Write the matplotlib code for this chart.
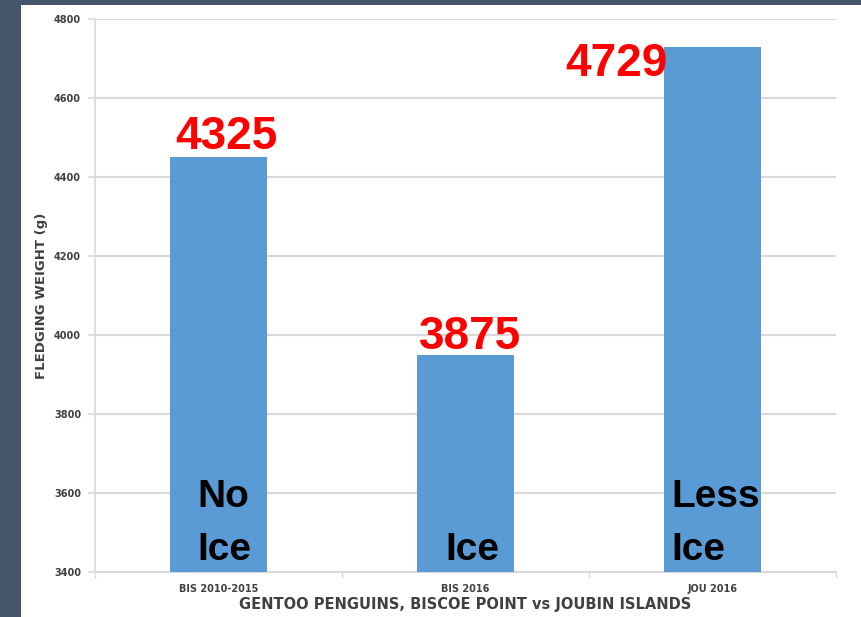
import matplotlib
matplotlib.use("Agg")
import matplotlib.pyplot as plt
from matplotlib.patches import Rectangle

categories = ["BIS 2010-2015", "BIS 2016", "JOU 2016"]
weights = [4450, 3950, 4730]
value_labels = ["4325", "3875", "4729"]
ice_labels = ["No\nIce", "Ice", "Less\nIce"]
yticks = [3400, 3600, 3800, 4000, 4200, 4400, 4600, 4800]

W, H = 862, 617
fig = plt.figure(figsize=(W / 100, H / 100), dpi=100, facecolor="white")
fig.patches.append(Rectangle((0, 0), 21 / W, 1, transform=fig.transFigure,
                             facecolor="#44546A", edgecolor="none", zorder=-10))
fig.patches.append(Rectangle((0, (H - 5) / H), 1, 5 / H, transform=fig.transFigure,
                             facecolor="#44546A", edgecolor="none", zorder=-10))

ax = fig.add_axes([95 / W, (H - 572) / H, (836 - 95) / W, (572 - 19) / H])
ax.set_facecolor("white")
x = list(range(len(categories)))
ax.bar(x, weights, width=0.39, color="#5B9BD5", zorder=3)
ax.set_xlim(-0.5, 2.5)
ax.set_ylim(3400, 4800)
ax.set_yticks(yticks)
ax.set_yticklabels([str(t) for t in yticks], fontsize=7, color="#404040", fontweight="bold")
ax.set_xticks(x)
ax.set_xticklabels(categories, fontsize=7, color="#404040", fontweight="bold")
ax.set_xticks([-0.5, 0.5, 1.5, 2.5], minor=True)
ax.tick_params(axis="x", which="major", length=0, pad=9)
ax.tick_params(axis="x", which="minor", length=4, color="#d9d9d9", width=1)
ax.tick_params(axis="y", length=5, color="#d9d9d9", width=1.2, pad=5)
ax.grid(axis="y", color="#d9d9d9", linewidth=1.5, zorder=0)
for s in ["top", "right"]:
    ax.spines[s].set_visible(False)
ax.spines["left"].set_color("#d9d9d9")
ax.spines["bottom"].set_color("#d9d9d9")
ax.spines["left"].set_linewidth(1.2)
ax.spines["bottom"].set_linewidth(1.5)

ax.set_xlabel("GENTOO PENGUINS, BISCOE POINT vs JOUBIN ISLANDS", fontsize=10.5,
              color="#404040", fontweight="bold")
ax.xaxis.set_label_coords(0.5, -(605 - 572) / (572 - 19))
ax.xaxis.label.set_va("center")
ax.set_ylabel("FLEDGING WEIGHT (g)", fontsize=9.5, color="#404040", fontweight="bold")
ax.yaxis.set_label_coords(-(95 - 42) / (836 - 95), 0.5)
ax.yaxis.label.set_va("center")

val_dx = [0.03, 0.02, -0.39]
val_y = [4470, 3965, 4655]
for i, (lab, dx, yy) in enumerate(zip(value_labels, val_dx, val_y)):
    ax.text(i + dx, yy, lab, color="#FF0000", fontsize=33, fontweight="bold",
            family="Liberation Sans", ha="center", va="baseline", zorder=5)

ice_dx = [-0.085, -0.08, -0.165]
line_baselines = [3430, 3565]  # bottom line first
for i, (lab, dx) in enumerate(zip(ice_labels, ice_dx)):
    lines = lab.split("\n")[::-1]
    for j, line in enumerate(lines):
        ax.text(i + dx, line_baselines[j], line, color="black", fontsize=28, fontweight="bold",
                family="Liberation Sans", ha="left", va="baseline", zorder=5)

fig.savefig("out.png", dpi=100, facecolor=fig.get_facecolor())
